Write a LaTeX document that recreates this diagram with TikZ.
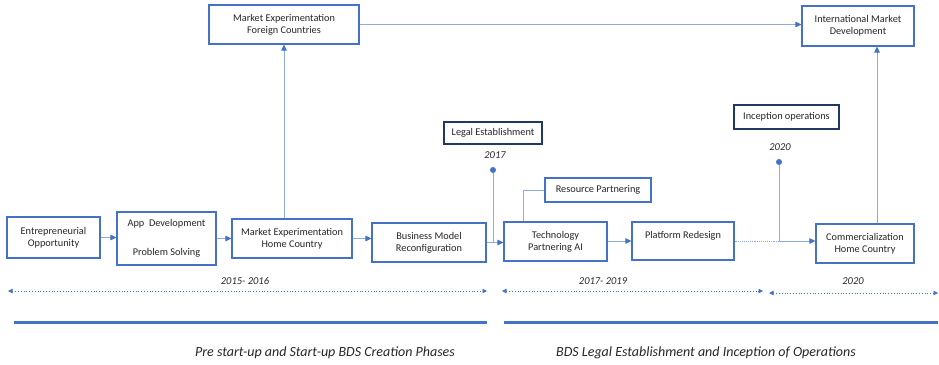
\documentclass[tikz,border=0pt]{standalone}
\usepackage{fontspec}
\setmainfont{Carlito}
\usetikzlibrary{arrows.meta}
\definecolor{boxblue}{HTML}{4472C4}
\definecolor{navy}{HTML}{1F3864}
\definecolor{linkblue}{HTML}{8FAADC}
\definecolor{ink}{HTML}{262626}

\begin{document}
\begin{tikzpicture}[x=1pt,y=-1pt,
  every node/.style={font=\fontsize{10.3}{12}\selectfont, text=ink},
  box/.style={draw=boxblue, line width=1.1pt, fill=white, align=center, inner sep=0pt},
  tagbox/.style={draw=navy, line width=1.1pt, fill=white, align=center, inner sep=0pt},
  conn/.style={draw=linkblue, line width=0.9pt,
    -{Triangle[length=6pt,width=5.5pt,color=boxblue]}},
  plain/.style={draw=linkblue, line width=0.9pt},
  span/.style={draw=boxblue, line width=0.8pt, dotted,
    {Triangle[length=4.5pt,width=4.5pt,color=boxblue]}-{Triangle[length=4.5pt,width=4.5pt,color=boxblue]}},
  phase/.style={draw=boxblue, line width=3pt},
  year/.style={font=\fontsize{10.5}{12}\selectfont\itshape},
  caption/.style={font=\fontsize{14}{16}\selectfont\itshape},
  pin/.style={circle, fill=boxblue, inner sep=0pt, minimum size=6pt}
]
\useasboundingbox (0,0) rectangle (939,364);

% main chain of phases
\node[box, minimum width=93pt, minimum height=41pt] (entre) at (53.5,237.5) {Entrepreneurial\\Opportunity};
\node[box, minimum width=99pt, minimum height=53pt] (app) at (166.5,238.5) {App\ \ Development\\[17pt]Problem Solving};
\node[box, minimum width=120pt, minimum height=39pt] (mhome) at (292,238.5) {Market Experimentation\\Home Country};
\node[box, minimum width=114pt, minimum height=39pt] (biz) at (429,242.5) {Business Model\\Reconfiguration};
\node[box, minimum width=103pt, minimum height=39pt] (tech) at (555.5,241.5) {Technology\\Partnering AI};
\node[box, minimum width=102pt, minimum height=38pt] (plat) at (683,241) {Platform Redesign\\\mbox{}};
\node[box, minimum width=98pt, minimum height=39pt] (comm) at (865,243.5) {Commercialization\\Home Country};

% upper boxes
\node[box, minimum width=150pt, minimum height=39pt] (forn) at (284,24.5) {Market Experimentation\\Foreign Countries};
\node[box, minimum width=112pt, minimum height=40pt] (intl) at (858,26) {International Market\\Development};
\node[box, minimum width=106pt, minimum height=24pt] (res) at (598,190) {Resource Partnering};

% milestones
\node[tagbox, minimum width=98pt, minimum height=22pt] (legal) at (493,133) {Legal Establishment};
\node[year] (y2017) at (495,155) {2017};
\node[pin] (legdot) at (493,170) {};
\node[tagbox, minimum width=105pt, minimum height=24pt] (incep) at (786.5,117) {Inception operations};
\node[year] (y2020) at (780,147) {2020};
\node[pin] (incdot) at (779,162) {};

% connectors along the chain
\draw[conn] (entre.east) -- (entre.east -| app.west);
\draw[conn] (mhome.west -| app.east) -- (mhome.west);
\draw[conn] (mhome.east) -- (mhome.east -| biz.west);
\draw[conn] (biz.east) -- (biz.east -| tech.west);
\draw[conn] (plat.east -| tech.east) -- (plat.west);
\coordinate (meet) at (incdot |- plat.east);
\draw[plain, densely dotted] (plat.east) -- (meet);
\draw[conn] (meet) -- (meet -| comm.west);

% milestone drops
\draw[plain] (legdot) -- (legdot |- biz.east);
\draw[plain] (incdot) -- (meet);

% branches upward
\draw[conn] (forn.south |- mhome.north) -- (forn.south);
\draw[conn] (forn.east) -- (forn.east -| intl.west);
\draw[conn] ([xshift=12pt]comm.north) -- ([xshift=12pt]comm.north |- intl.south);
\coordinate (rturn) at ([xshift=-32.5pt]tech.north);
\draw[plain] (res.west) -| (rturn);

% time spans
\coordinate (s1a) at (8,291);  \coordinate (s1b) at (487,291);
\coordinate (s2a) at (502,291); \coordinate (s2b) at (763,291);
\coordinate (s3a) at (769,293); \coordinate (s3b) at (938,293);
\draw[span] (s1a) -- (s1b);
\draw[span] (s2a) -- (s2b);
\draw[span] (s3a) -- (s3b);
\node[year] (t1) at (245,281) {2015- 2016};
\node[year] (t2) at (603,281) {2017- 2019};
\node[year] (t3) at (853,281) {2020};

% phase bars
\coordinate (p1a) at (14,322);  \coordinate (p1b) at (487,322);
\coordinate (p2a) at (504,322); \coordinate (p2b) at (938,322);
\draw[phase] (p1a) -- (p1b);
\draw[phase] (p2a) -- (p2b);
\node[caption] (c1) at (325,353) {Pre start-up and Start-up BDS Creation Phases};
\node[caption] (c2) at (706,353) {BDS Legal Establishment and Inception of Operations};
\end{tikzpicture}
\end{document}
